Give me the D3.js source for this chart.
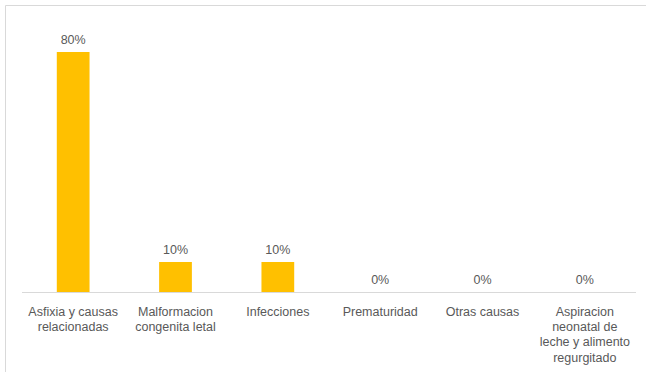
<!DOCTYPE html>
<html>
<head>
<meta charset="utf-8">
<script src="https://cdn.jsdelivr.net/npm/d3@7"></script>
<style>
  html, body { margin: 0; padding: 0; background: #fff; }
  svg { display: block; }
  text { font-family: "Liberation Sans", Arial, sans-serif; }
</style>
</head>
<body>
<svg id="chart" width="646" height="372"></svg>
<script>
const categories = [
  "Asfixia y causas\nrelacionadas",
  "Malformacion\ncongenita letal",
  "Infecciones",
  "Prematuridad",
  "Otras causas",
  "Aspiracion\nneonatal de\nleche y alimento\nregurgitado"
];
const values = [0.80, 0.10, 0.10, 0, 0, 0];

const svg = d3.select("#chart");
const W = 646, H = 372;
const baseY = 292;

// frame
svg.append("line").attr("x1", 5.5).attr("x2", W).attr("y1", 5.5).attr("y2", 5.5)
  .attr("stroke", "#d9d9d9").attr("stroke-width", 1);
svg.append("line").attr("x1", 5.5).attr("x2", 5.5).attr("y1", 5.5).attr("y2", H)
  .attr("stroke", "#d9d9d9").attr("stroke-width", 1);

const x = d3.scaleBand().domain(categories).range([22, 636])
  .paddingInner(0.68).paddingOuter(0.34);
const y = d3.scaleLinear().domain([0, 0.8]).range([baseY, 52]);

svg.selectAll("rect.bar").data(values).enter().append("rect")
  .attr("class", "bar")
  .attr("x", (d, i) => x(categories[i]))
  .attr("width", x.bandwidth())
  .attr("y", d => y(d))
  .attr("height", d => baseY - y(d))
  .attr("fill", "#ffc000");

svg.selectAll("text.val").data(values).enter().append("text")
  .attr("class", "val")
  .attr("x", (d, i) => x(categories[i]) + x.bandwidth() / 2)
  .attr("y", d => y(d) - 8.5)
  .attr("text-anchor", "middle")
  .attr("font-size", 12.5)
  .attr("fill", "#595959")
  .text(d => d3.format(".0%")(d));

const axis = d3.axisBottom(x).tickSize(0).tickPadding(0).tickFormat("");
const gA = svg.append("g").attr("transform", `translate(0,${baseY})`).call(axis);
gA.select(".domain").attr("stroke", "#d9d9d9").attr("d", "M22,0.5H636");

gA.selectAll(".tick").each(function(d) {
  const t = d3.select(this).append("text")
    .attr("text-anchor", "middle")
    .attr("font-size", 12.5)
    .attr("fill", "#595959");
  d.split("\n").forEach((line, i) => {
    t.append("tspan").attr("x", 0).attr("y", 23.5 + i * 15.4).text(line);
  });
});
</script>
</body>
</html>
